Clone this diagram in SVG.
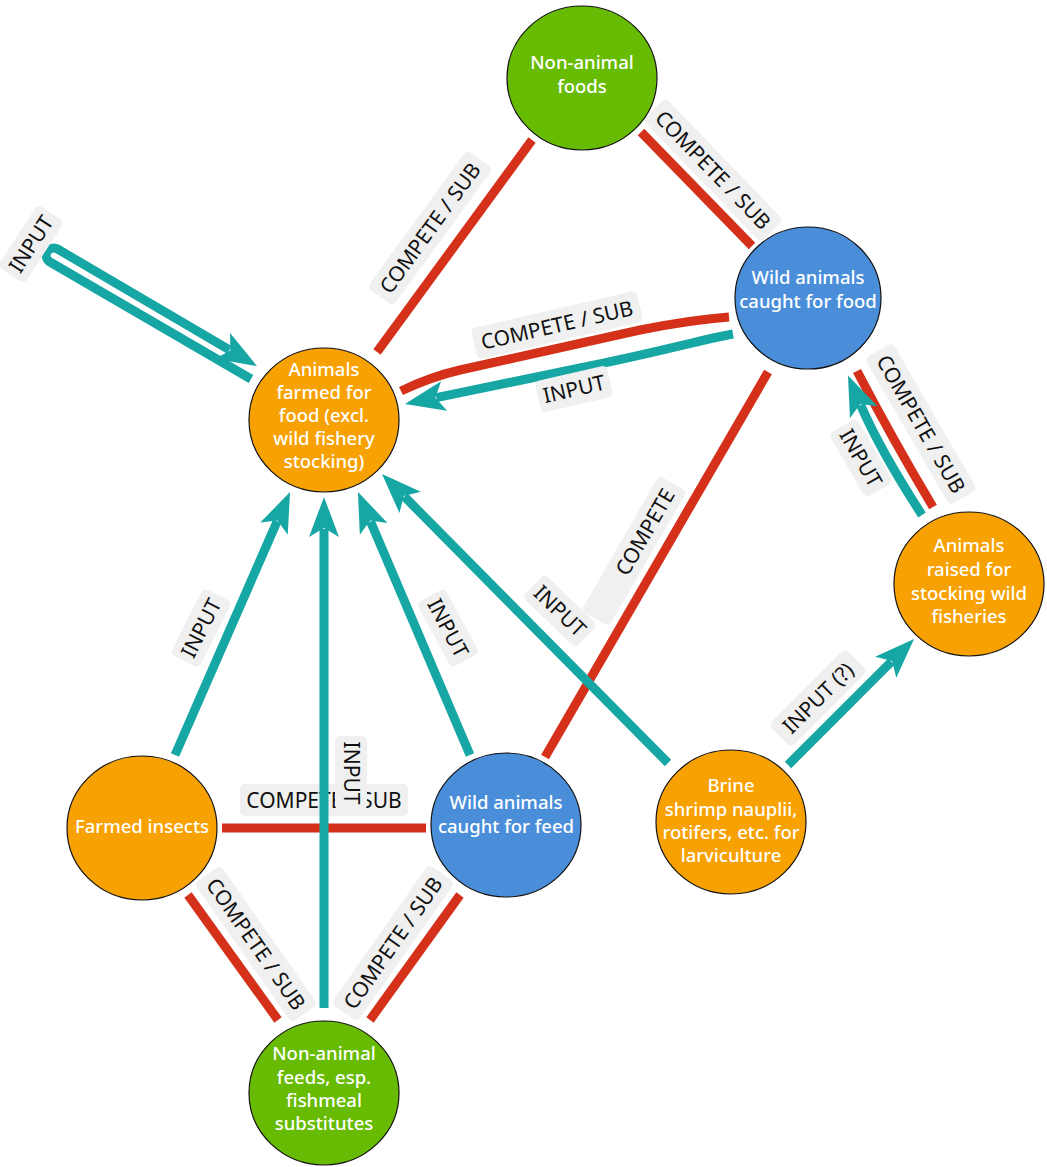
<svg xmlns="http://www.w3.org/2000/svg" width="1047" height="1167" viewBox="0 0 1047 1167">
<style>
.red{fill:none;stroke:#d5311a;stroke-width:9}
.teal{fill:none;stroke:#16a6a4;stroke-width:9}
.arrow{marker-end:url(#arr)}
.lbg{fill:#f0f0f0}
.ltx{font-family:"Noto Sans","Open Sans",sans-serif;font-size:21px;fill:#111;text-anchor:middle}
.node{stroke:#111;stroke-width:1.2}
.orange{fill:#f8a102}
.green{fill:#67bb02}
.blue{fill:#4a8eda}
.ntx{font-family:"Noto Sans","Open Sans",sans-serif;font-size:18.5px;font-weight:500;fill:#fff;text-anchor:middle}
</style>
<defs>
<marker id="arr" markerUnits="userSpaceOnUse" markerWidth="40" markerHeight="32" viewBox="0 0 40 32" refX="8" refY="16" orient="auto">
<path d="M40 16 L0 1 L9 16 L0 31 Z" fill="#16a6a4"/>
</marker>
</defs>
<rect width="1047" height="1167" fill="#fff"/>
<g id="connectors">
<path class="red" d="M532 140 L377 352"/>
<g transform="translate(430,228) rotate(-54)"><rect class="lbg" x="-85" y="-16" width="170" height="32" rx="5"/><text class="ltx" y="7.5">COMPETE / SUB</text></g>
<path class="red" d="M641 132 L752 246"/>
<g transform="translate(713,170) rotate(46)"><rect class="lbg" x="-85" y="-16" width="170" height="32" rx="5"/><text class="ltx" y="7.5">COMPETE / SUB</text></g>
<path class="red" d="M729 317 Q690 320 640 330 L460 370 Q430 377 401 391"/>
<g transform="translate(557,325) rotate(-13)"><rect class="lbg" x="-85" y="-16" width="170" height="32" rx="5"/><text class="ltx" y="7.5">COMPETE / SUB</text></g>
<path class="teal arrow" d="M733 334 C700 340 660 352 580 368 L436.3 397.6"/>
<g transform="translate(574,389) rotate(-13)"><rect class="lbg" x="-37" y="-16" width="74" height="32" rx="5"/><text class="ltx" y="7.5">INPUT</text></g>
<path class="teal arrow" d="M251 379 L50 262 A7.5 7.5 0 0 1 57.5 249 L229.4 349.9"/>
<g transform="translate(31,244) rotate(-57)"><rect class="lbg" x="-37" y="-16" width="74" height="32" rx="5"/><text class="ltx" y="7.5">INPUT</text></g>
<path class="red" d="M933 507 Q893 440 857 371"/>
<g transform="translate(921,424) rotate(60)"><rect class="lbg" x="-85" y="-16" width="170" height="32" rx="5"/><text class="ltx" y="7.5">COMPETE / SUB</text></g>
<path class="teal arrow" d="M922 515 Q880 450 860.6 404.9"/>
<g transform="translate(861,458) rotate(60)"><rect class="lbg" x="-37" y="-16" width="74" height="32" rx="5"/><text class="ltx" y="7.5">INPUT</text></g>
<path class="teal arrow" d="M788 765 L891.4 661.6"/>
<g transform="translate(818,698) rotate(-45)"><rect class="lbg" x="-54" y="-16" width="108" height="32" rx="5"/><text class="ltx" y="7.5">INPUT (?)</text></g>
<path class="red" d="M545 757 L768 372"/>
<g transform="translate(645,532) rotate(-60)"><rect class="lbg" x="-100" y="-16" width="156" height="32" rx="5"/><text class="ltx" y="7.5">COMPETE</text></g>
<path class="teal arrow" d="M668 763 L404.5 496.7"/>
<g transform="translate(560,611) rotate(44)"><rect class="lbg" x="-37" y="-16" width="74" height="32" rx="5"/><text class="ltx" y="7.5">INPUT</text></g>
<path class="teal arrow" d="M470 755 L370.5 521.4"/>
<g transform="translate(448,628) rotate(62)"><rect class="lbg" x="-37" y="-16" width="74" height="32" rx="5"/><text class="ltx" y="7.5">INPUT</text></g>
<path class="teal arrow" d="M175 755 L277.2 521.3"/>
<g transform="translate(201,628) rotate(-63)"><rect class="lbg" x="-37" y="-16" width="74" height="32" rx="5"/><text class="ltx" y="7.5">INPUT</text></g>
<path class="red" d="M222 828 L426 828"/>
<g transform="translate(324,800)"><rect class="lbg" x="-84" y="-16" width="168" height="32" rx="5"/><text class="ltx" y="7.5">COMPETE / SUB</text></g>
<path class="teal arrow" d="M324 1008 L324 529"/>
<g transform="translate(351,773) rotate(90)"><rect class="lbg" x="-37" y="-16" width="74" height="32" rx="5"/><text class="ltx" y="7.5">INPUT</text></g>
<path class="red" d="M188 895 L278 1020"/>
<g transform="translate(256,944) rotate(55)"><rect class="lbg" x="-85" y="-16" width="170" height="32" rx="5"/><text class="ltx" y="7.5">COMPETE / SUB</text></g>
<path class="red" d="M460 895 L370 1020"/>
<g transform="translate(393,943) rotate(-55)"><rect class="lbg" x="-85" y="-16" width="170" height="32" rx="5"/><text class="ltx" y="7.5">COMPETE / SUB</text></g>
</g>
<g id="node-nonanimal-foods">
<ellipse class="node green" cx="582" cy="78" rx="75" ry="72"/>
<text class="ntx"><tspan x="582" y="68.5">Non-animal</tspan><tspan x="582" y="92.5">foods</tspan></text>
</g>
<g id="node-wild-food">
<ellipse class="node blue" cx="808" cy="298" rx="73" ry="71"/>
<text class="ntx"><tspan x="808" y="283.5">Wild animals</tspan><tspan x="808" y="307.5">caught for food</tspan></text>
</g>
<g id="node-farmed-food">
<ellipse class="node orange" cx="324" cy="420" rx="75" ry="72"/>
<text class="ntx"><tspan x="324" y="375.5">Animals</tspan><tspan x="324" y="398.5">farmed for</tspan><tspan x="324" y="421.5">food (excl.</tspan><tspan x="324" y="444.5">wild fishery</tspan><tspan x="324" y="467.5">stocking)</tspan></text>
</g>
<g id="node-stocking">
<ellipse class="node orange" cx="969" cy="584" rx="75" ry="72"/>
<text class="ntx"><tspan x="969" y="551.5">Animals</tspan><tspan x="969" y="575.5">raised for</tspan><tspan x="969" y="599.5">stocking wild</tspan><tspan x="969" y="622.5">fisheries</tspan></text>
</g>
<g id="node-insects">
<ellipse class="node orange" cx="142" cy="828" rx="75" ry="72"/>
<text class="ntx"><tspan x="142" y="832.5">Farmed insects</tspan></text>
</g>
<g id="node-wild-feed">
<ellipse class="node blue" cx="506" cy="825" rx="75" ry="72"/>
<text class="ntx"><tspan x="506" y="808.5">Wild animals</tspan><tspan x="506" y="832.5">caught for feed</tspan></text>
</g>
<g id="node-brine">
<ellipse class="node orange" cx="731" cy="822" rx="75" ry="72"/>
<text class="ntx"><tspan x="731" y="791.5">Brine</tspan><tspan x="731" y="815.5">shrimp nauplii,</tspan><tspan x="731" y="838.5">rotifers, etc. for</tspan><tspan x="731" y="861.5">larviculture</tspan></text>
</g>
<g id="node-nonanimal-feeds">
<ellipse class="node green" cx="324" cy="1093" rx="75" ry="72"/>
<text class="ntx"><tspan x="324" y="1059.5">Non-animal</tspan><tspan x="324" y="1083.5">feeds, esp.</tspan><tspan x="324" y="1106.5">fishmeal</tspan><tspan x="324" y="1129.5">substitutes</tspan></text>
</g>
</svg>
